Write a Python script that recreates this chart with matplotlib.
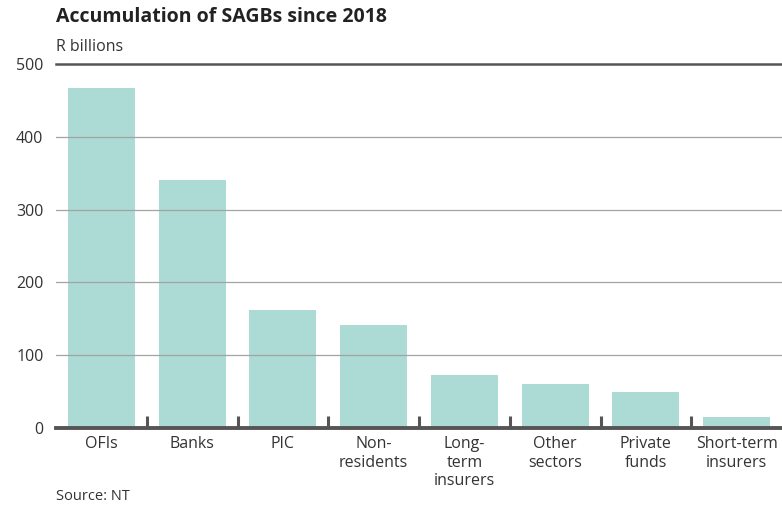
import matplotlib.pyplot as plt
import numpy as np

plt.rcParams['font.family'] = ['Open Sans', 'DejaVu Sans']

sectors = ['OFIs', 'Banks', 'PIC', 'Non-\nresidents', 'Long-\nterm\ninsurers',
           'Other\nsectors', 'Private\nfunds', 'Short-term\ninsurers']
accumulation = [467, 341, 162, 141, 73, 60, 50, 15]
yticks = [0, 100, 200, 300, 400, 500]

txt = '#333333'
dark = '#555555'

fig = plt.figure(figsize=(7.82, 5.05), dpi=100)
ax = fig.add_axes([56/782, 1-428/505, 1-56/782, 364/505])

x = np.arange(len(sectors))
ax.bar(x, accumulation, width=0.74, color='#acdad5', zorder=1)

# gridlines over the bars, heavier rule at the top
for v in yticks[1:-1]:
    ax.axhline(v, color='#a3a3a3', lw=0.9, zorder=2)
ax.axhline(yticks[-1], color=dark, lw=1.8, zorder=2, clip_on=False)

ax.set_xlim(-0.5, len(sectors) - 0.5)
ax.set_ylim(0, 500)
ax.set_yticks(yticks)
ax.set_xticks(x)
ax.set_xticklabels(sectors, linespacing=1.2)
ax.set_xticks(x[:-1] + 0.5, minor=True)

for s in ['top', 'left', 'right']:
    ax.spines[s].set_visible(False)
ax.spines['bottom'].set_color(dark)
ax.spines['bottom'].set_linewidth(2.8)
ax.spines['bottom'].set_zorder(3)

ax.tick_params(axis='y', length=0, pad=9, labelsize=11.5, labelcolor=txt)
ax.tick_params(axis='x', which='major', length=0, pad=6, labelsize=11.5, labelcolor=txt)
ax.tick_params(axis='x', which='minor', direction='in', length=9, width=2.2, color=dark)

fig.text(56/782, 1-17/505, 'Accumulation of SAGBs since 2018', fontsize=14,
         fontweight='bold', color='#222222', va='center', ha='left')
fig.text(56/782, 1-47/505, 'R billions', fontsize=11.5, color=txt, va='center', ha='left')
fig.text(56/782, 1-496/505, 'Source: NT', fontsize=10.5, color=txt, va='center', ha='left')

fig.savefig('out.png', dpi=100)
